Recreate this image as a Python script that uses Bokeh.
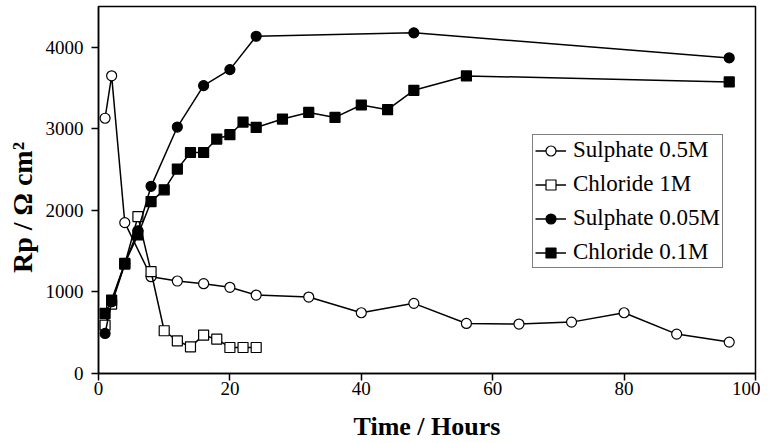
from bokeh.plotting import figure
from bokeh.models import Range1d, FixedTicker, Legend, LegendItem
from bokeh.embed import file_html
from bokeh.resources import INLINE

# Data (hours, Rp in ohm cm^2)
sul05_t = [1, 2, 4, 8, 12, 16, 20, 24, 32, 40, 48, 56, 64, 72, 80, 88, 96]
sul05_v = [3130, 3650, 1850, 1187, 1134, 1101, 1057, 962, 937, 745, 860, 614, 606, 630, 745, 483, 385]

chl1_t = [1, 2, 4, 6, 8, 10, 12, 14, 16, 18, 20, 22, 24]
chl1_v = [593, 851, 1340, 1924, 1248, 524, 401, 327, 470, 421, 319, 319, 319]

sul005_t = [1, 2, 4, 6, 8, 12, 16, 20, 24, 48, 96]
sul005_v = [491, 880, 1350, 1750, 2295, 3022, 3530, 3726, 4135, 4177, 3870]

chl01_t = [1, 2, 4, 6, 8, 10, 12, 14, 16, 18, 20, 22, 24, 28, 32, 36, 40, 44, 48, 56, 96]
chl01_v = [737, 900, 1351, 1699, 2108, 2252, 2506, 2710, 2710, 2875, 2928, 3083, 3017,
           3120, 3201, 3140, 3292, 3235, 3472, 3649, 3575]

x_ticks = [0, 20, 40, 60, 80, 100]
y_ticks = [0, 1000, 2000, 3000, 4000]

FONT = "Liberation Serif"

p = figure(width=760, height=443, output_backend="svg", toolbar_location=None,
           x_range=Range1d(0, 100), y_range=Range1d(0, 4500),
           min_border_left=98, min_border_right=5, min_border_top=6, min_border_bottom=70)

p.xgrid.visible = False
p.ygrid.visible = False
p.outline_line_color = "black"
p.outline_line_width = 1.5
p.background_fill_color = "white"
p.border_fill_color = "white"

for ax in (p.xaxis[0], p.yaxis[0]):
    ax.axis_line_color = "black"
    ax.axis_line_width = 1.5
    ax.major_tick_line_color = "black"
    ax.major_tick_line_width = 1.5
    ax.major_tick_out = 7
    ax.major_tick_in = 0
    ax.minor_tick_line_color = None
    ax.major_label_text_font = FONT
    ax.major_label_text_font_size = "19px"
    ax.major_label_text_color = "black"
    ax.axis_label_text_font = FONT
    ax.axis_label_text_font_style = "bold"
    ax.axis_label_text_color = "black"

p.xaxis.axis_label_text_font_size = "26px"
p.yaxis.axis_label_text_font_size = "28px"
p.xaxis.ticker = FixedTicker(ticks=x_ticks)
p.yaxis.ticker = FixedTicker(ticks=y_ticks)
p.xaxis.axis_label = "Time / Hours"
p.yaxis.axis_label = "Rp / Ω cm²\u00a0\u00a0\u00a0\u00a0\u00a0"
p.xaxis.major_label_standoff = 1
p.xaxis.axis_label_standoff = 14
p.yaxis.major_label_standoff = 8
p.yaxis.axis_label_standoff = 5

series = [
    ("Sulphate 0.5M", sul05_t, sul05_v, "circle", "white"),
    ("Chloride 1M", chl1_t, chl1_v, "square", "white"),
    ("Sulphate 0.05M", sul005_t, sul005_v, "circle", "black"),
    ("Chloride 0.1M", chl01_t, chl01_v, "square", "black"),
]

items = []
for name, t, v, marker, fill in series:
    r1 = p.line(t, v, line_color="black", line_width=1.5)
    r2 = p.scatter(t, v, marker=marker, size=10, fill_color=fill,
                   line_color="black", line_width=1.2)
    items.append(LegendItem(label=name, renderers=[r1, r2]))

legend = Legend(items=items, location=(434, 105))
legend.label_text_font = FONT
legend.label_text_font_size = "23px"
legend.label_text_color = "black"
legend.border_line_color = "black"
legend.border_line_width = 1.5
legend.background_fill_alpha = 1
legend.glyph_width = 31
legend.glyph_height = 25
legend.label_height = 25
legend.label_standoff = 7
legend.spacing = 8
legend.padding = 2
legend.margin = 0
p.add_layout(legend, "center")

open("out.html", "w").write(file_html(p, INLINE))
